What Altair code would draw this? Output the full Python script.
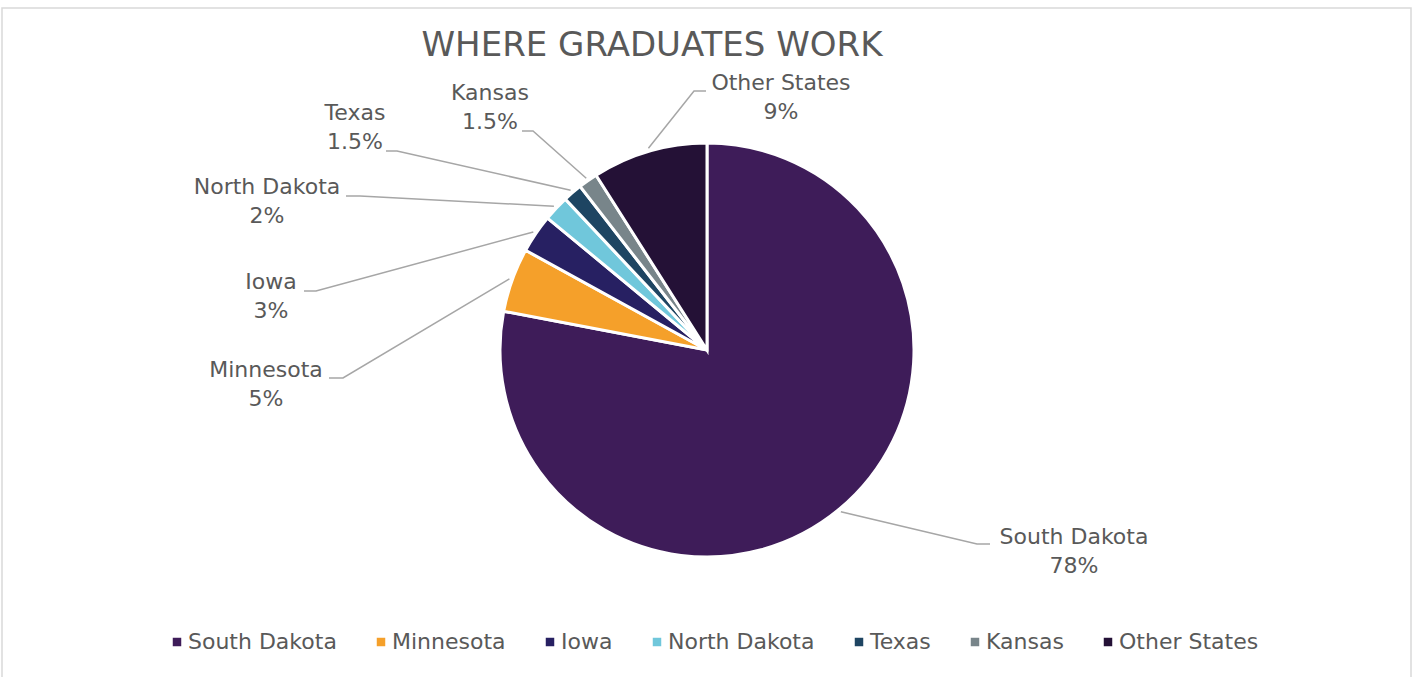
import math
import altair as alt
import pandas as pd

# ---- data ----
states = ["South Dakota", "Minnesota", "Iowa", "North Dakota", "Texas", "Kansas", "Other States"]
shares = [78, 5, 3, 2, 1.5, 1.5, 9]
pct_labels = ["78%", "5%", "3%", "2%", "1.5%", "1.5%", "9%"]
colors = ["#3E1C59", "#F5A02A", "#272062", "#70C7DB", "#1E4562", "#78858A", "#241136"]

# ---- layout (pixels) ----
W, H = 1416, 677
CX, CY, R = 707, 350, 207
FONT = "DejaVu Sans"
TXT = "#595959"
# label text centre (x, y of name line)
label_xy = [(1074, 537), (266, 370), (271, 282), (267, 187), (355, 113), (490, 93), (781, 83)]
# leader elbow and end points
elbow_xy = [(977, 544), (343, 378), (316, 291), (360, 196), (397, 151), (533, 131), (694, 91)]
end_xy = [(990, 544), (329, 378), (304, 291), (346, 196), (386, 151), (522, 131), (706, 91)]

pie = pd.DataFrame({"state": states, "share": shares, "idx": range(len(states)), "pct": pct_labels})

total = sum(shares)
rows, labels = [], []
cum = 0
for i, (s, v) in enumerate(zip(states, shares)):
    mid = (cum + v / 2) / total * 2 * math.pi
    cum += v
    sx = CX + (R + 3) * math.sin(mid)
    sy = CY - (R + 3) * math.cos(mid)
    for k, (px, py) in enumerate([(sx, sy), elbow_xy[i], end_xy[i]]):
        rows.append({"state": s, "k": k, "px": px, "py": py})
    labels.append({"state": s, "pct": pct_labels[i], "lx": label_xy[i][0],
                   "ly": label_xy[i][1], "ly2": label_xy[i][1] + 29})
lines = pd.DataFrame(rows)
lab = pd.DataFrame(labels)

xs = alt.Scale(domain=[0, W], nice=False, zero=False)
ys = alt.Scale(domain=[0, H], nice=False, zero=False, reverse=True)

arc = alt.Chart(pie).mark_arc(radius=R, stroke="white", strokeWidth=3).encode(
    theta=alt.Theta("share:Q", stack=True),
    order=alt.Order("idx:Q", sort="ascending"),
    color=alt.Color(
        "state:N",
        scale=alt.Scale(domain=states, range=colors),
        legend=alt.Legend(
            title=None, orient="none", direction="horizontal",
            legendX=166, legendY=631, symbolType="square", symbolSize=72,
            symbolStrokeWidth=0, labelFont=FONT, labelFontSize=22, labelColor=TXT,
            labelOffset=0, columnPadding=33, padding=0,
        ),
    ),
    x=alt.value(CX),
    y=alt.value(CY),
)

lead = alt.Chart(lines).mark_line(color="#A6A6A6", strokeWidth=1.5).encode(
    x=alt.X("px:Q", scale=xs, axis=None),
    y=alt.Y("py:Q", scale=ys, axis=None),
    detail="state:N",
    order="k:Q",
)

name_txt = alt.Chart(lab).mark_text(font=FONT, fontSize=22, color=TXT, align="center", baseline="middle").encode(
    x=alt.X("lx:Q", scale=xs, axis=None), y=alt.Y("ly:Q", scale=ys, axis=None), text="state:N"
)
pct_txt = alt.Chart(lab).mark_text(font=FONT, fontSize=22, color=TXT, align="center", baseline="middle").encode(
    x=alt.X("lx:Q", scale=xs, axis=None), y=alt.Y("ly2:Q", scale=ys, axis=None), text="pct:N"
)

title = alt.Chart(pd.DataFrame({"t": ["WHERE GRADUATES WORK"], "x": [652], "y": [46]})).mark_text(
    font=FONT, fontSize=34, color=TXT, align="center", baseline="middle"
).encode(x=alt.X("x:Q", scale=xs, axis=None), y=alt.Y("y:Q", scale=ys, axis=None), text="t:N")

border = alt.Chart(pd.DataFrame({"a": [0]})).mark_rect(fill=None, stroke="#D9D9D9", strokeWidth=1.5).encode(
    x=alt.value(2), x2=alt.value(1411), y=alt.value(8), y2=alt.value(700)
)

chart = alt.layer(border, arc, lead, name_txt, pct_txt, title).properties(
    width=W, height=H, autosize=alt.AutoSizeParams(type="none"), padding=0, background="white"
).configure_view(stroke=None)

chart.save("out.html", embed_options={"renderer": "svg", "actions": False})
